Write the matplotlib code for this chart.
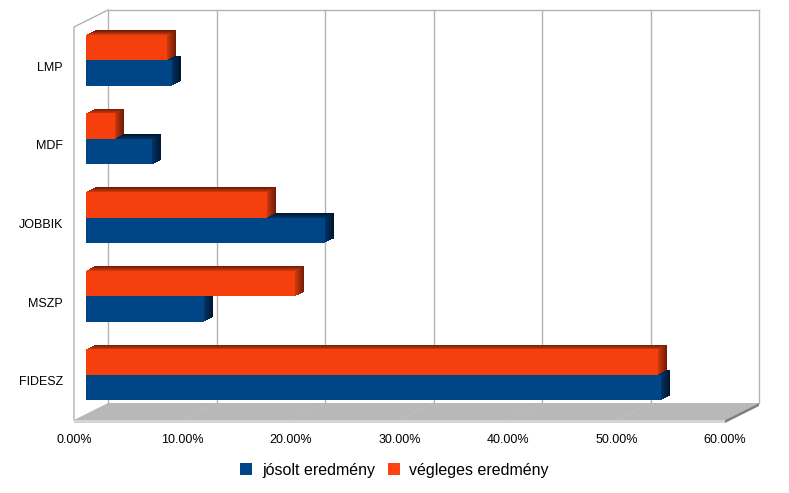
import matplotlib
matplotlib.use('Agg')
import matplotlib.pyplot as plt
import matplotlib.transforms as mtransforms
from matplotlib.patches import Patch, Polygon
from matplotlib.lines import Line2D
import numpy as np

# ---------------- data ----------------
categories = ['FIDESZ', 'MSZP', 'JOBBIK', 'MDF', 'LMP']
predicted = [53.0, 10.9, 22.0, 6.1, 7.9]      # jósolt eredmény
final = [52.73, 19.30, 16.67, 2.67, 7.48]      # végleges eredmény
series_names = ['jósolt eredmény', 'végleges eredmény']
xticks = [0, 10, 20, 30, 40, 50, 60]

plt.rcParams['font.family'] = ['Liberation Sans', 'DejaVu Sans']

W, H, DPI = 789, 493, 100
fig = plt.figure(figsize=(W / DPI, H / DPI), dpi=DPI)
ax = fig.add_axes([74 / W, (H - 420) / H, 651 / W, 393 / H])
ax.set_xlim(0, 60)
ax.set_ylim(-0.5, 4.5)
for s in ax.spines.values():
    s.set_visible(False)
ax.set_facecolor('none')

DX, DY = 34.0, 17.0  # pixel shift for full depth


def off(d):
    return ax.transData + mtransforms.ScaledTranslation(DX * d / DPI, DY * d / DPI,
                                                         fig.dpi_scale_trans)


def P(x, y, d):
    px, py = ax.transData.transform((x, y))
    return (px + DX * d, py + DY * d)


ident = mtransforms.IdentityTransform()
grid_c = '#b3b3b3'

# floor
ax.add_patch(Polygon([P(0, -0.5, 0), P(60, -0.5, 0), P(60, -0.5, 1), P(0, -0.5, 1)],
                     closed=True, transform=ident, facecolor='#b8b8b8', edgecolor='none',
                     zorder=0.5, clip_on=False))
x0, y0 = P(0, -0.5, 0)
x1, y1 = P(60, -0.5, 0)
x2, y2 = P(60, -0.5, 1)
ax.add_patch(Polygon([(x0, y0), (x1, y1), (x1, y1 - 3), (x0, y0 - 3)], closed=True,
                     transform=ident, facecolor='#d4d4d4', edgecolor='none',
                     zorder=0.6, clip_on=False))
ax.add_patch(Polygon([(x1, y1), (x2, y2), (x2, y2 - 3), (x1, y1 - 3)], closed=True,
                     transform=ident, facecolor='#7f7f7f', edgecolor='none',
                     zorder=0.6, clip_on=False))


def seg(pts, **kw):
    xs = [p[0] for p in pts]
    ys = [p[1] for p in pts]
    ax.add_line(Line2D(xs, ys, transform=ident, clip_on=False, **kw))


# faint floor lines under gridlines
for x in xticks[1:-1]:
    seg([P(x, -0.5, 0.05), P(x, -0.5, 1)], color='#bebebe', lw=0.7, zorder=0.55)

# back wall gridlines and outline
for x in xticks:
    seg([P(x, -0.5, 1), P(x, 4.5, 1)], color=grid_c, lw=1.0, zorder=0.4)
seg([P(0, 4.5, 1), P(60, 4.5, 1)], color=grid_c, lw=1.0, zorder=0.4)
# left wall
seg([P(0, -0.5, 0), P(0, 4.5, 0), P(0, 4.5, 1)], color=grid_c, lw=1.0, zorder=0.4)

# ---------------- bars ----------------
blue = '#004586'
orange = '#f53f0d'
blue_back, blue_near = np.array([0, 22, 48]) / 255, np.array([0, 50, 100]) / 255
or_back, or_near = np.array([110, 28, 6]) / 255, np.array([205, 55, 12]) / 255
h = 0.325
d0, d1 = 0.35, 0.62
N = 14
y = np.arange(len(categories))


def bar3d(ypos, val, face, cback, cnear):
    for k in range(N):
        t = k / (N - 1)
        d = d1 - (d1 - d0) * k / N
        c = cback * (1 - t) + cnear * t
        bars = ax.barh([ypos], [val], height=h, align='edge', color=c,
                       zorder=2, clip_on=False)
        for b in bars:
            b.set_transform(off(d))
    bars = ax.barh([ypos], [val], height=h, align='edge', color=face,
                   zorder=2, clip_on=False)
    for b in bars:
        b.set_transform(off(d0))


for i in range(len(categories)):
    bar3d(y[i] - h, predicted[i], blue, blue_back, blue_near)
    bar3d(y[i], final[i], orange, or_back, or_near)

ax.set_xlim(0, 60)
ax.set_ylim(-0.5, 4.5)

# ---------------- axes text ----------------
ax.set_xticks(xticks)
ax.set_xticklabels([f'{v:.2f}%' for v in xticks], fontsize=9)
ax.set_yticks(y)
ax.set_yticklabels(categories, fontsize=9)
ax.tick_params(axis='x', length=0, pad=10)
ax.tick_params(axis='y', length=0, pad=8)
ax.grid(False)

handles = [Patch(facecolor=blue, edgecolor='none', label=series_names[0]),
           Patch(facecolor='#ff420e', edgecolor='none', label=series_names[1])]
fig.legend(handles=handles, loc='center', bbox_to_anchor=(0.5, 23 / H), ncol=2,
           frameon=False, fontsize=11.5, handlelength=0.75, handleheight=0.75,
           handletextpad=0.6, columnspacing=0.8)

fig.savefig('out.png', dpi=DPI)
